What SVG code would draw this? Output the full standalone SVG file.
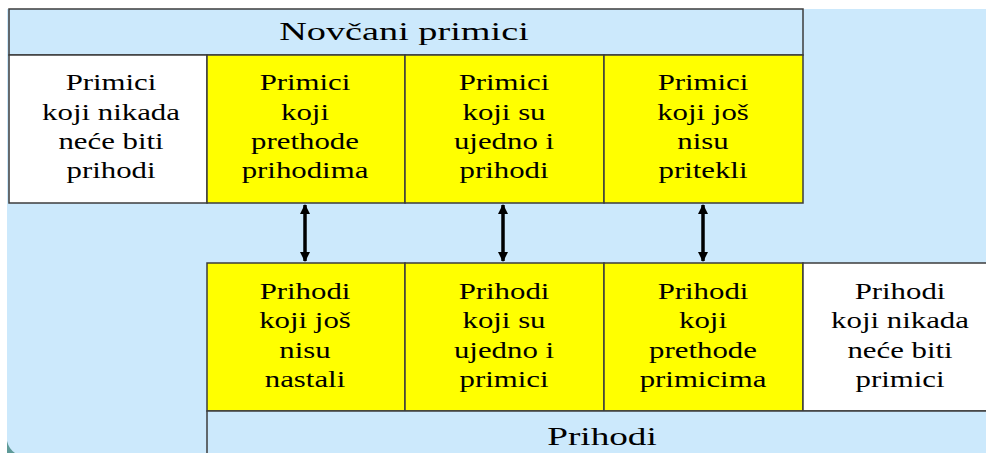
<svg xmlns="http://www.w3.org/2000/svg" width="986" height="453" viewBox="0 0 986 453">
<defs>
<style>
.box{stroke:#3c3c3c;stroke-width:1.5}
.y{fill:#ffff00}
.w{fill:#ffffff}
.h{fill:#cce9fc}
text{font-family:"Liberation Serif","Times New Roman",serif;fill:#000;text-anchor:middle}
.t{font-size:23px}
.ht{font-size:25.5px}
.con{stroke:#000;stroke-width:3.5;fill:none;marker-start:url(#ah);marker-end:url(#ah)}
</style>
<marker id="ah" viewBox="0 0 10 10" refX="9" refY="5" markerWidth="3" markerHeight="3" orient="auto-start-reverse" markerUnits="strokeWidth">
<path d="M0,0 L10,5 L0,10 Z" fill="#000"/>
</marker>
</defs>
<rect x="0" y="0" width="986" height="453" fill="#ffffff"/>
<rect x="7" y="9" width="979" height="444" fill="#cce9fc"/>
<path d="M7,441 Q9,449 15,453 L7,453 Z" fill="#5e9a98"/>

<g id="hdr-primici">
<rect class="box h" x="9" y="9" width="794" height="46"/>
<text class="ht" transform="matrix(1.5 0 0 1 404 39.5)">Novčani primici</text>
</g>
<g id="p1">
<rect class="box w" x="9" y="55" width="198" height="148"/>
<text class="t" transform="matrix(1.34 0 0 1 111 0)"><tspan x="0" y="90.5">Primici</tspan><tspan x="0" y="120">koji nikada</tspan><tspan x="0" y="149">neće biti</tspan><tspan x="0" y="178">prihodi</tspan></text>
</g>
<g id="p2">
<rect class="box y" x="207" y="55" width="198" height="148"/>
<text class="t" transform="matrix(1.34 0 0 1 305 0)"><tspan x="0" y="90.5">Primici</tspan><tspan x="0" y="120">koji</tspan><tspan x="0" y="149">prethode</tspan><tspan x="0" y="178">prihodima</tspan></text>
</g>
<g id="p3">
<rect class="box y" x="405" y="55" width="199" height="148"/>
<text class="t" transform="matrix(1.34 0 0 1 504 0)"><tspan x="0" y="90.5">Primici</tspan><tspan x="0" y="120">koji su</tspan><tspan x="0" y="149">ujedno i</tspan><tspan x="0" y="178">prihodi</tspan></text>
</g>
<g id="p4">
<rect class="box y" x="604" y="55" width="199" height="148"/>
<text class="t" transform="matrix(1.34 0 0 1 703 0)"><tspan x="0" y="90.5">Primici</tspan><tspan x="0" y="120">koji još</tspan><tspan x="0" y="149">nisu</tspan><tspan x="0" y="178">pritekli</tspan></text>
</g>

<g id="r1">
<rect class="box y" x="207" y="263" width="198" height="148"/>
<text class="t" transform="matrix(1.34 0 0 1 305 0)"><tspan x="0" y="299">Prihodi</tspan><tspan x="0" y="328.5">koji još</tspan><tspan x="0" y="358">nisu</tspan><tspan x="0" y="387">nastali</tspan></text>
</g>
<g id="r2">
<rect class="box y" x="405" y="263" width="199" height="148"/>
<text class="t" transform="matrix(1.34 0 0 1 504 0)"><tspan x="0" y="299">Prihodi</tspan><tspan x="0" y="328.5">koji su</tspan><tspan x="0" y="358">ujedno i</tspan><tspan x="0" y="387">primici</tspan></text>
</g>
<g id="r3">
<rect class="box y" x="604" y="263" width="199" height="148"/>
<text class="t" transform="matrix(1.34 0 0 1 703 0)"><tspan x="0" y="299">Prihodi</tspan><tspan x="0" y="328.5">koji</tspan><tspan x="0" y="358">prethode</tspan><tspan x="0" y="387">primicima</tspan></text>
</g>
<g id="r4">
<rect class="box w" x="803" y="263" width="190" height="148"/>
<text class="t" transform="matrix(1.34 0 0 1 900 0)"><tspan x="0" y="299">Prihodi</tspan><tspan x="0" y="328.5">koji nikada</tspan><tspan x="0" y="358">neće biti</tspan><tspan x="0" y="387">primici</tspan></text>
</g>
<g id="hdr-prihodi">
<rect class="box h" x="207" y="411" width="790" height="50"/>
<text class="ht" transform="matrix(1.46 0 0 1 602 445)">Prihodi</text>
</g>

<g id="connectors">
<line class="con" x1="305" y1="205" x2="305" y2="261"/>
<line class="con" x1="503" y1="205" x2="503" y2="261"/>
<line class="con" x1="703" y1="205" x2="703" y2="261"/>
</g>
</svg>
